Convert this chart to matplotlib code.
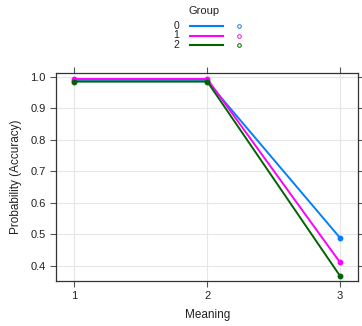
import matplotlib
matplotlib.use("Agg")
import matplotlib.pyplot as plt
from matplotlib.lines import Line2D

meaning = [1, 2, 3]
groups = ["0", "1", "2"]
acc_g0 = [0.986, 0.986, 0.488]
acc_g1 = [0.993, 0.993, 0.410]
acc_g2 = [0.985, 0.985, 0.367]
colors = ["#0080ff", "#ff00ff", "#006400"]

plt.rcParams["font.family"] = ["Liberation Sans", "DejaVu Sans"]
plt.rcParams["text.color"] = "#222222"

fig = plt.figure(figsize=(3.62, 3.26), dpi=100)
ax = fig.add_axes([0.155, 0.139, 0.835, 0.636])

for vals, c in zip([acc_g0, acc_g1, acc_g2], colors):
    ax.plot(meaning, vals, color=c, lw=1.4, marker="o", ms=3.2, zorder=3)

ax.set_xlim(0.862, 3.138)
ax.set_ylim(0.352, 1.011)
ax.set_xticks(meaning)
ax.set_yticks([0.4, 0.5, 0.6, 0.7, 0.8, 0.9, 1.0])
ax.set_yticklabels(["0.4", "0.5", "0.6", "0.7", "0.8", "0.9", "1.0"])
ax.grid(True, color="#e6e6e6", lw=0.8, zorder=0)
ax.tick_params(labelsize=8, length=4, color="#555555", labelcolor="#222222",
               top=True, right=True, direction="out")
for s in ax.spines.values():
    s.set_color("#333333")
    s.set_linewidth(0.9)
ax.set_xlabel("Meaning", fontsize=8.5, labelpad=6, color="#222222")
ax.set_ylabel("Probability (Accuracy)", fontsize=8.5, labelpad=6, color="#222222")

# legend drawn at the top like lattice key
W, H = 362.0, 326.0
fig.text(204 / W, 1 - 11 / H, "Group", ha="center", va="center", fontsize=8)
for i, (g, c) in enumerate(zip(groups, colors)):
    y = 1 - (26 + i * 9.5) / H
    fig.text(176 / W, y, g, ha="center", va="center", fontsize=7.5)
    fig.add_artist(Line2D([190 / W, 223 / W], [y, y], color=c, lw=1.5,
                          transform=fig.transFigure))
    fig.add_artist(Line2D([239 / W], [y], color=c, marker="o", ms=2.6,
                          mfc="none", mew=0.7, transform=fig.transFigure))

fig.savefig("out.png", dpi=100)
